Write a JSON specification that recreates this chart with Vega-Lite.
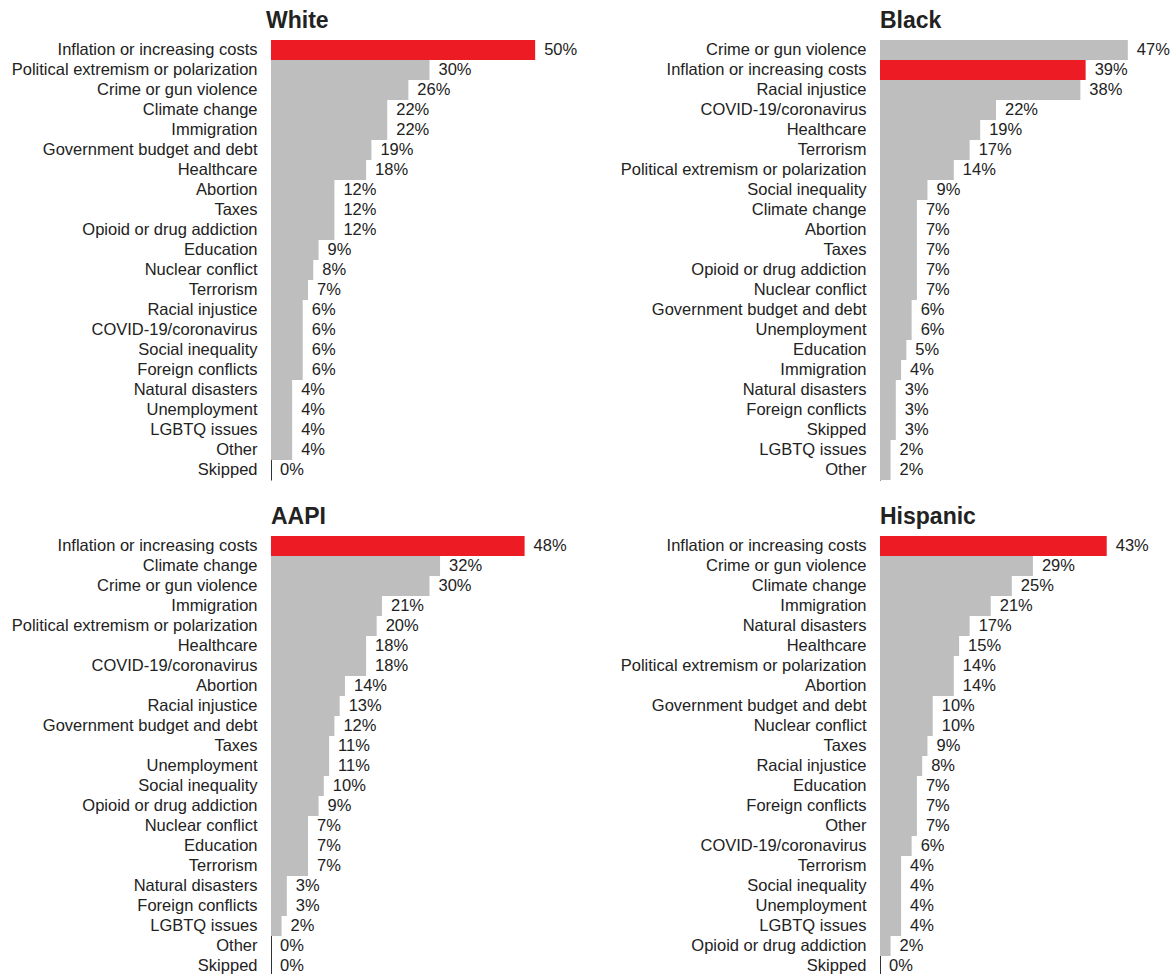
{
  "$schema": "https://vega.github.io/schema/vega-lite/v6.json",
  "background": "white",
  "padding": {"left": 11, "top": 10, "right": 0, "bottom": 0},
  "config": {
    "view": {"stroke": null},
    "font": "Liberation Sans",
    "title": {"fontSize": 23, "fontWeight": "bold", "color": "#222222", "anchor": "start", "frame": "group", "baseline": "alphabetic", "offset": 7, "font": "Liberation Sans"},
    "axisY": {"title": null, "ticks": false, "grid": false, "domainColor": "#333333", "domainWidth": 1, "labelFontSize": 16.5, "labelColor": "#222222", "labelPadding": 14, "minExtent": 260, "maxExtent": 260, "labelLimit": 300, "zindex": 1, "labelFont": "Liberation Sans"}
  },
  "datasets": {
    "white": [
      {"issue": "Inflation or increasing costs", "pct": 0.50},
      {"issue": "Political extremism or polarization", "pct": 0.30},
      {"issue": "Crime or gun violence", "pct": 0.26},
      {"issue": "Climate change", "pct": 0.22},
      {"issue": "Immigration", "pct": 0.22},
      {"issue": "Government budget and debt", "pct": 0.19},
      {"issue": "Healthcare", "pct": 0.18},
      {"issue": "Abortion", "pct": 0.12},
      {"issue": "Taxes", "pct": 0.12},
      {"issue": "Opioid or drug addiction", "pct": 0.12},
      {"issue": "Education", "pct": 0.09},
      {"issue": "Nuclear conflict", "pct": 0.08},
      {"issue": "Terrorism", "pct": 0.07},
      {"issue": "Racial injustice", "pct": 0.06},
      {"issue": "COVID-19/coronavirus", "pct": 0.06},
      {"issue": "Social inequality", "pct": 0.06},
      {"issue": "Foreign conflicts", "pct": 0.06},
      {"issue": "Natural disasters", "pct": 0.04},
      {"issue": "Unemployment", "pct": 0.04},
      {"issue": "LGBTQ issues", "pct": 0.04},
      {"issue": "Other", "pct": 0.04},
      {"issue": "Skipped", "pct": 0.0}
    ],
    "black": [
      {"issue": "Crime or gun violence", "pct": 0.47},
      {"issue": "Inflation or increasing costs", "pct": 0.39},
      {"issue": "Racial injustice", "pct": 0.38},
      {"issue": "COVID-19/coronavirus", "pct": 0.22},
      {"issue": "Healthcare", "pct": 0.19},
      {"issue": "Terrorism", "pct": 0.17},
      {"issue": "Political extremism or polarization", "pct": 0.14},
      {"issue": "Social inequality", "pct": 0.09},
      {"issue": "Climate change", "pct": 0.07},
      {"issue": "Abortion", "pct": 0.07},
      {"issue": "Taxes", "pct": 0.07},
      {"issue": "Opioid or drug addiction", "pct": 0.07},
      {"issue": "Nuclear conflict", "pct": 0.07},
      {"issue": "Government budget and debt", "pct": 0.06},
      {"issue": "Unemployment", "pct": 0.06},
      {"issue": "Education", "pct": 0.05},
      {"issue": "Immigration", "pct": 0.04},
      {"issue": "Natural disasters", "pct": 0.03},
      {"issue": "Foreign conflicts", "pct": 0.03},
      {"issue": "Skipped", "pct": 0.03},
      {"issue": "LGBTQ issues", "pct": 0.02},
      {"issue": "Other", "pct": 0.02}
    ],
    "aapi": [
      {"issue": "Inflation or increasing costs", "pct": 0.48},
      {"issue": "Climate change", "pct": 0.32},
      {"issue": "Crime or gun violence", "pct": 0.30},
      {"issue": "Immigration", "pct": 0.21},
      {"issue": "Political extremism or polarization", "pct": 0.20},
      {"issue": "Healthcare", "pct": 0.18},
      {"issue": "COVID-19/coronavirus", "pct": 0.18},
      {"issue": "Abortion", "pct": 0.14},
      {"issue": "Racial injustice", "pct": 0.13},
      {"issue": "Government budget and debt", "pct": 0.12},
      {"issue": "Taxes", "pct": 0.11},
      {"issue": "Unemployment", "pct": 0.11},
      {"issue": "Social inequality", "pct": 0.10},
      {"issue": "Opioid or drug addiction", "pct": 0.09},
      {"issue": "Nuclear conflict", "pct": 0.07},
      {"issue": "Education", "pct": 0.07},
      {"issue": "Terrorism", "pct": 0.07},
      {"issue": "Natural disasters", "pct": 0.03},
      {"issue": "Foreign conflicts", "pct": 0.03},
      {"issue": "LGBTQ issues", "pct": 0.02},
      {"issue": "Other", "pct": 0.0},
      {"issue": "Skipped", "pct": 0.0}
    ],
    "hispanic": [
      {"issue": "Inflation or increasing costs", "pct": 0.43},
      {"issue": "Crime or gun violence", "pct": 0.29},
      {"issue": "Climate change", "pct": 0.25},
      {"issue": "Immigration", "pct": 0.21},
      {"issue": "Natural disasters", "pct": 0.17},
      {"issue": "Healthcare", "pct": 0.15},
      {"issue": "Political extremism or polarization", "pct": 0.14},
      {"issue": "Abortion", "pct": 0.14},
      {"issue": "Government budget and debt", "pct": 0.10},
      {"issue": "Nuclear conflict", "pct": 0.10},
      {"issue": "Taxes", "pct": 0.09},
      {"issue": "Racial injustice", "pct": 0.08},
      {"issue": "Education", "pct": 0.07},
      {"issue": "Foreign conflicts", "pct": 0.07},
      {"issue": "Other", "pct": 0.07},
      {"issue": "COVID-19/coronavirus", "pct": 0.06},
      {"issue": "Terrorism", "pct": 0.04},
      {"issue": "Social inequality", "pct": 0.04},
      {"issue": "Unemployment", "pct": 0.04},
      {"issue": "LGBTQ issues", "pct": 0.04},
      {"issue": "Opioid or drug addiction", "pct": 0.02},
      {"issue": "Skipped", "pct": 0.0}
    ]
  },
  "spacing": 26,
  "resolve": {"scale": {"x": "independent", "y": "independent"}},
  "vconcat": [
    {
      "spacing": 32,
      "resolve": {"scale": {"x": "independent", "y": "independent"}},
      "hconcat": [
        {
          "title": {"text": "White", "dx": -5},
          "data": {"name": "white"},
          "width": 317, "height": 440,
          "encoding": {
            "y": {"field": "issue", "type": "nominal", "sort": null, "scale": {"paddingInner": 0, "paddingOuter": 0}},
            "x": {"field": "pct", "type": "quantitative", "scale": {"domain": [0, 0.6]}, "axis": null}
          },
          "layer": [
            {"mark": {"type": "bar"}, "encoding": {"color": {"condition": {"test": "datum.issue === 'Inflation or increasing costs'", "value": "#ED1C24"}, "value": "#BEBEBE"}}},
            {"mark": {"type": "text", "align": "left", "dx": 9, "fontSize": 16.5, "color": "#222222", "font": "Liberation Sans"}, "encoding": {"text": {"field": "pct", "type": "quantitative", "format": ".0%"}}}
          ]
        },
        {
          "title": {"text": "Black"},
          "data": {"name": "black"},
          "width": 290, "height": 440,
          "encoding": {
            "y": {"field": "issue", "type": "nominal", "sort": null, "scale": {"paddingInner": 0, "paddingOuter": 0}},
            "x": {"field": "pct", "type": "quantitative", "scale": {"domain": [0, 0.55]}, "axis": null}
          },
          "layer": [
            {"mark": {"type": "bar"}, "encoding": {"color": {"condition": {"test": "datum.issue === 'Inflation or increasing costs'", "value": "#ED1C24"}, "value": "#BEBEBE"}}},
            {"mark": {"type": "text", "align": "left", "dx": 9, "fontSize": 16.5, "color": "#222222", "font": "Liberation Sans"}, "encoding": {"text": {"field": "pct", "type": "quantitative", "format": ".0%"}}}
          ]
        }
      ]
    },
    {
      "spacing": 32,
      "resolve": {"scale": {"x": "independent", "y": "independent"}},
      "hconcat": [
        {
          "title": {"text": "AAPI"},
          "data": {"name": "aapi"},
          "width": 317, "height": 440,
          "encoding": {
            "y": {"field": "issue", "type": "nominal", "sort": null, "scale": {"paddingInner": 0, "paddingOuter": 0}},
            "x": {"field": "pct", "type": "quantitative", "scale": {"domain": [0, 0.6]}, "axis": null}
          },
          "layer": [
            {"mark": {"type": "bar"}, "encoding": {"color": {"condition": {"test": "datum.issue === 'Inflation or increasing costs'", "value": "#ED1C24"}, "value": "#BEBEBE"}}},
            {"mark": {"type": "text", "align": "left", "dx": 9, "fontSize": 16.5, "color": "#222222", "font": "Liberation Sans"}, "encoding": {"text": {"field": "pct", "type": "quantitative", "format": ".0%"}}}
          ]
        },
        {
          "title": {"text": "Hispanic"},
          "data": {"name": "hispanic"},
          "width": 290, "height": 440,
          "encoding": {
            "y": {"field": "issue", "type": "nominal", "sort": null, "scale": {"paddingInner": 0, "paddingOuter": 0}},
            "x": {"field": "pct", "type": "quantitative", "scale": {"domain": [0, 0.55]}, "axis": null}
          },
          "layer": [
            {"mark": {"type": "bar"}, "encoding": {"color": {"condition": {"test": "datum.issue === 'Inflation or increasing costs'", "value": "#ED1C24"}, "value": "#BEBEBE"}}},
            {"mark": {"type": "text", "align": "left", "dx": 9, "fontSize": 16.5, "color": "#222222", "font": "Liberation Sans"}, "encoding": {"text": {"field": "pct", "type": "quantitative", "format": ".0%"}}}
          ]
        }
      ]
    }
  ]
}
